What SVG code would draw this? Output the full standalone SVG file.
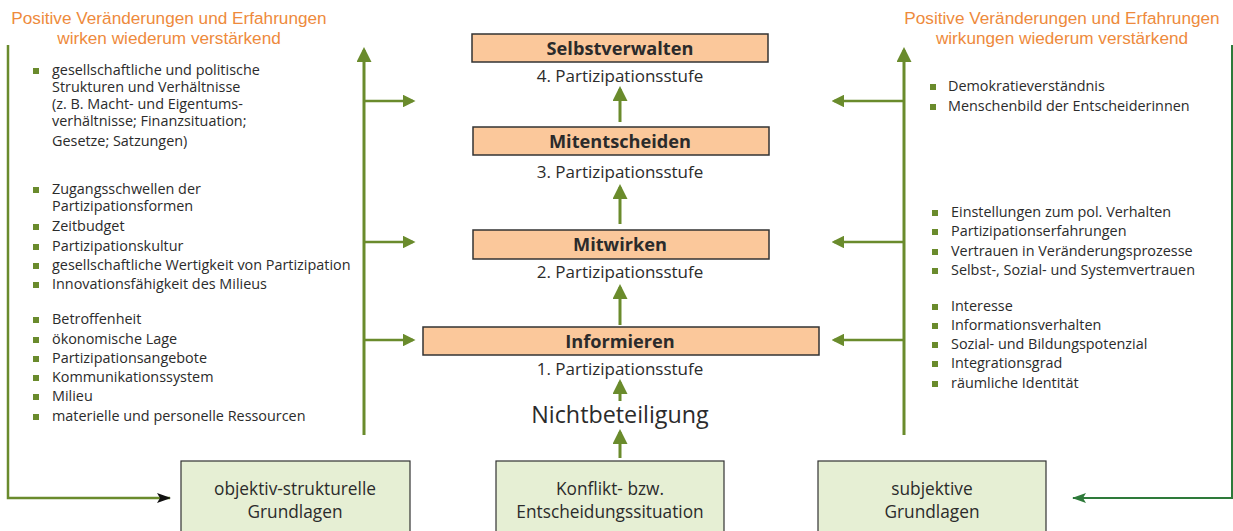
<svg xmlns="http://www.w3.org/2000/svg" width="1233" height="531" viewBox="0 0 1233 531">
<style>
.t{font-family:"Open Sans","Liberation Sans",sans-serif;fill:#2b2b2b}
.li{font-size:14.4px}
.head{font-family:"Liberation Sans",Arial,sans-serif;font-size:17.2px;fill:#ee8a3c;text-anchor:middle}
.stage{fill:#fbc89b;stroke:#333;stroke-width:1.5}
.stageT{font-size:18.2px;font-weight:bold;text-anchor:middle}
.lvl{font-size:17px;text-anchor:middle}
.base{fill:#e6efd4;stroke:#333;stroke-width:1.2}
.baseT{font-size:17.3px;text-anchor:middle}
.g{stroke:#6a8b2c;stroke-width:3;fill:none}
.g2{stroke:#6a8b2c;stroke-width:2.5;fill:none}
.b{fill:#6a8b2c}
</style>
<defs>
<marker id="ah" markerWidth="5" markerHeight="5" refX="4" refY="2.5" orient="auto" markerUnits="strokeWidth"><path d="M0,0L5,2.5L0,5z" fill="#6a8b2c"/></marker>
<marker id="ahk" markerWidth="14" markerHeight="10" refX="13" refY="5" orient="auto" markerUnits="userSpaceOnUse"><path d="M0,0L14,5L0,10L3,5z" fill="#111"/></marker>
<marker id="ahd" markerWidth="14" markerHeight="10" refX="13" refY="5" orient="auto" markerUnits="userSpaceOnUse"><path d="M0,0L14,5L0,10L3,5z" fill="#2e7a3a"/></marker>
</defs>

<g id="connectors">
<path class="g" d="M364,435V50" marker-end="url(#ah)"/>
<path class="g2" d="M364,101H413" marker-end="url(#ah)"/>
<path class="g2" d="M364,242H413" marker-end="url(#ah)"/>
<path class="g2" d="M364,340H413" marker-end="url(#ah)"/>
<path class="g" d="M904,435V50" marker-end="url(#ah)"/>
<path class="g2" d="M904,101H834" marker-end="url(#ah)"/>
<path class="g2" d="M904,242H834" marker-end="url(#ah)"/>
<path class="g2" d="M904,340H834" marker-end="url(#ah)"/>
<path d="M8,45V498H170" fill="none" stroke="#6a8b2c" stroke-width="2.5" marker-end="url(#ahk)"/>
<path d="M1232,45V498H1073" fill="none" stroke="#2e7a3a" stroke-width="2" marker-end="url(#ahd)"/>
<path class="g" d="M620,122V89" marker-end="url(#ah)"/>
<path class="g" d="M620,224V187" marker-end="url(#ah)"/>
<path class="g" d="M620,325V287" marker-end="url(#ah)"/>
<path class="g" d="M620,401V382" marker-end="url(#ah)"/>
<path class="g" d="M620,458V432" marker-end="url(#ah)"/>
</g>

<g id="heading-left">
<text class="head" x="169" y="24">Positive Veränderungen und Erfahrungen</text>
<text class="head" x="169" y="44">wirken wiederum verstärkend</text>
</g>
<g id="heading-right">
<text class="head" x="1062" y="24">Positive Veränderungen und Erfahrungen</text>
<text class="head" x="1062" y="44">wirkungen wiederum verstärkend</text>
</g>

<g id="stage4">
<rect class="stage" x="472" y="34" width="296" height="28"/>
<text class="t stageT" x="620" y="55">Selbstverwalten</text>
<text class="t lvl" x="620" y="82">4. Partizipationsstufe</text>
</g>
<g id="stage3">
<rect class="stage" x="473" y="127" width="296" height="28"/>
<text class="t stageT" x="620" y="148">Mitentscheiden</text>
<text class="t lvl" x="620" y="178">3. Partizipationsstufe</text>
</g>
<g id="stage2">
<rect class="stage" x="473" y="230" width="296" height="29"/>
<text class="t stageT" x="620" y="251">Mitwirken</text>
<text class="t lvl" x="620" y="278">2. Partizipationsstufe</text>
</g>
<g id="stage1">
<rect class="stage" x="423" y="327" width="396" height="28"/>
<text class="t stageT" x="620" y="348">Informieren</text>
<text class="t lvl" x="620" y="375">1. Partizipationsstufe</text>
</g>
<g id="stage0">
<text class="t" x="620" y="423" font-size="23.3" text-anchor="middle">Nichtbeteiligung</text>
</g>

<g id="base-left">
<rect class="base" x="181" y="461" width="229" height="75"/>
<text class="t baseT" x="295" y="495">objektiv-strukturelle</text>
<text class="t baseT" x="295" y="518">Grundlagen</text>
</g>
<g id="base-mid">
<rect class="base" x="496" y="461" width="228" height="75"/>
<text class="t baseT" x="610" y="495">Konflikt- bzw.</text>
<text class="t baseT" x="610" y="518">Entscheidungssituation</text>
</g>
<g id="base-right">
<rect class="base" x="818" y="461" width="228" height="75"/>
<text class="t baseT" x="932" y="495">subjektive</text>
<text class="t baseT" x="932" y="518">Grundlagen</text>
</g>

<g id="list-left">
<rect class="b" x="33" y="68" width="6" height="6"/>
<text class="t li" x="52" y="75">gesellschaftliche und politische</text>
<text class="t li" x="52" y="92">Strukturen und Verhältnisse</text>
<text class="t li" x="52" y="109">(z. B. Macht- und Eigentums-</text>
<text class="t li" x="52" y="126">verhältnisse; Finanzsituation;</text>
<text class="t li" x="52" y="146">Gesetze; Satzungen)</text>

<rect class="b" x="33" y="187" width="6" height="6"/>
<text class="t li" x="52" y="194">Zugangsschwellen der</text>
<text class="t li" x="52" y="211">Partizipationsformen</text>
<rect class="b" x="33" y="224" width="6" height="6"/>
<text class="t li" x="52" y="231">Zeitbudget</text>
<rect class="b" x="33" y="244" width="6" height="6"/>
<text class="t li" x="52" y="251">Partizipationskultur</text>
<rect class="b" x="33" y="263" width="6" height="6"/>
<text class="t li" x="52" y="270">gesellschaftliche Wertigkeit von Partizipation</text>
<rect class="b" x="33" y="282" width="6" height="6"/>
<text class="t li" x="52" y="289">Innovationsfähigkeit des Milieus</text>

<rect class="b" x="33" y="317" width="6" height="6"/>
<text class="t li" x="52" y="324">Betroffenheit</text>
<rect class="b" x="33" y="337" width="6" height="6"/>
<text class="t li" x="52" y="344">ökonomische Lage</text>
<rect class="b" x="33" y="356" width="6" height="6"/>
<text class="t li" x="52" y="363">Partizipationsangebote</text>
<rect class="b" x="33" y="375" width="6" height="6"/>
<text class="t li" x="52" y="382">Kommunikationssystem</text>
<rect class="b" x="33" y="394" width="6" height="6"/>
<text class="t li" x="52" y="401">Milieu</text>
<rect class="b" x="33" y="414" width="6" height="6"/>
<text class="t li" x="52" y="421">materielle und personelle Ressourcen</text>
</g>

<g id="list-right">
<rect class="b" x="930" y="84" width="6" height="6"/>
<text class="t li" x="948" y="91">Demokratieverständnis</text>
<rect class="b" x="930" y="104" width="6" height="6"/>
<text class="t li" x="948" y="111">Menschenbild der Entscheiderinnen</text>

<rect class="b" x="932" y="210" width="6" height="6"/>
<text class="t li" x="951" y="217">Einstellungen zum pol. Verhalten</text>
<rect class="b" x="932" y="229" width="6" height="6"/>
<text class="t li" x="951" y="236">Partizipationserfahrungen</text>
<rect class="b" x="932" y="249" width="6" height="6"/>
<text class="t li" x="951" y="256">Vertrauen in Veränderungsprozesse</text>
<rect class="b" x="932" y="268" width="6" height="6"/>
<text class="t li" x="951" y="275">Selbst-, Sozial- und Systemvertrauen</text>

<rect class="b" x="932" y="304" width="6" height="6"/>
<text class="t li" x="951" y="311">Interesse</text>
<rect class="b" x="932" y="323" width="6" height="6"/>
<text class="t li" x="951" y="330">Informationsverhalten</text>
<rect class="b" x="932" y="342" width="6" height="6"/>
<text class="t li" x="951" y="349">Sozial- und Bildungspotenzial</text>
<rect class="b" x="932" y="361" width="6" height="6"/>
<text class="t li" x="951" y="368">Integrationsgrad</text>
<rect class="b" x="932" y="381" width="6" height="6"/>
<text class="t li" x="951" y="388">räumliche Identität</text>
</g>
</svg>
